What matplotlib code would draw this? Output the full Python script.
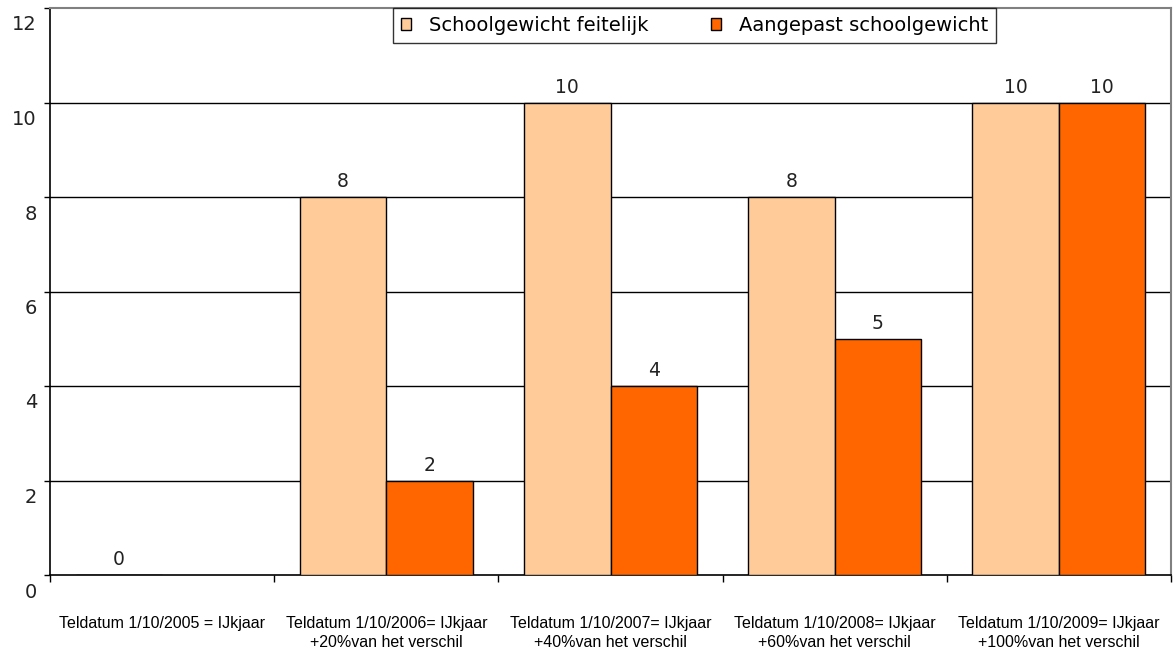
import numpy as np
import matplotlib
matplotlib.use("Agg")
import matplotlib.pyplot as plt
from matplotlib.transforms import ScaledTranslation, blended_transform_factory

# data
categories = ["Teldatum 1/10/2005 = IJkjaar",
              "Teldatum 1/10/2006= IJkjaar\n+20%van het verschil",
              "Teldatum 1/10/2007= IJkjaar\n+40%van het verschil",
              "Teldatum 1/10/2008= IJkjaar\n+60%van het verschil",
              "Teldatum 1/10/2009= IJkjaar\n+100%van het verschil"]
feitelijk = [0, 8, 10, 8, 10]
aangepast = [np.nan, 2, 4, 5, 10]
series_names = ["Schoolgewicht feitelijk", "Aangepast schoolgewicht"]
yticks = [0, 2, 4, 6, 8, 10, 12]

light = "#FFCC99"
dark = "#FF6600"
rfont = "DejaVu Sans"

fig = plt.figure(figsize=(11.73, 6.55), dpi=100)
ax = fig.add_axes([50 / 1173, 80 / 655, 1121 / 1173, 567 / 655])

x = np.arange(len(categories))
w = 0.386
b1 = ax.bar(x - w / 2, feitelijk, w, color=light, edgecolor="black", linewidth=1,
            label=series_names[0], zorder=3)
b2 = ax.bar(x + w / 2, aangepast, w, color=dark, edgecolor="black", linewidth=1,
            label=series_names[1], zorder=3)

# value labels
for bars, vals in ((b1, feitelijk), (b2, aangepast)):
    for rect, v in zip(bars, vals):
        if np.isnan(v):
            continue
        ax.annotate(f"{v:g}", (rect.get_x() + rect.get_width() / 2, v),
                    xytext=(0, 4), textcoords="offset points",
                    ha="center", va="bottom", fontsize=13.5, family=rfont,
                    color="#222222")

ax.set_xlim(-0.5, len(categories) - 0.5)
ax.set_ylim(0, 12)

# gridlines
for t in yticks[1:-1]:
    ax.axhline(t, color="black", linewidth=1, zorder=1)

# y ticks: labels drawn a bit below the gridline, as in the source
ax.set_yticks(yticks)
ax.set_yticklabels([])
ax.tick_params(axis="y", length=4, width=1, direction="out", color="black")
trans = blended_transform_factory(ax.transAxes, ax.transData) + \
    ScaledTranslation(-13 / 100, -17 / 100, fig.dpi_scale_trans)
for t in yticks:
    ax.text(0, t, str(t), transform=trans, ha="right", va="center",
            fontsize=14, family=rfont, color="#222222")

# x ticks at category boundaries, labels at centers
ax.set_xticks(np.arange(len(categories) + 1) - 0.5)
ax.set_xticklabels([])
ax.tick_params(axis="x", length=5, width=1, direction="out", color="black")
for i, lab in enumerate(categories):
    ax.annotate(lab, (i, 0), xycoords=("data", "axes fraction"),
                xytext=(0, -29.5), textcoords="offset points",
                ha="center", va="top", fontsize=11.5, family="Liberation Sans",
                linespacing=1.35)

for s in ("top", "right"):
    ax.spines[s].set_color("#808080")
    ax.spines[s].set_linewidth(1.5)
ax.spines["left"].set_color("black")
ax.spines["bottom"].set_color("black")
ax.spines["left"].set_linewidth(1.2)
ax.spines["bottom"].set_linewidth(1.2)

leg = ax.legend(loc="upper left", bbox_to_anchor=(343 / 1121, 1.0), ncol=2,
                frameon=True, fancybox=False, handlelength=0.55, handleheight=0.55,
                columnspacing=3.2, handletextpad=0.9, borderpad=0.4,
                borderaxespad=0.0, prop={"family": rfont, "size": 14})
leg.get_frame().set_edgecolor("black")
leg.get_frame().set_linewidth(1)
leg.set_zorder(5)

fig.savefig("out.png", dpi=100)
